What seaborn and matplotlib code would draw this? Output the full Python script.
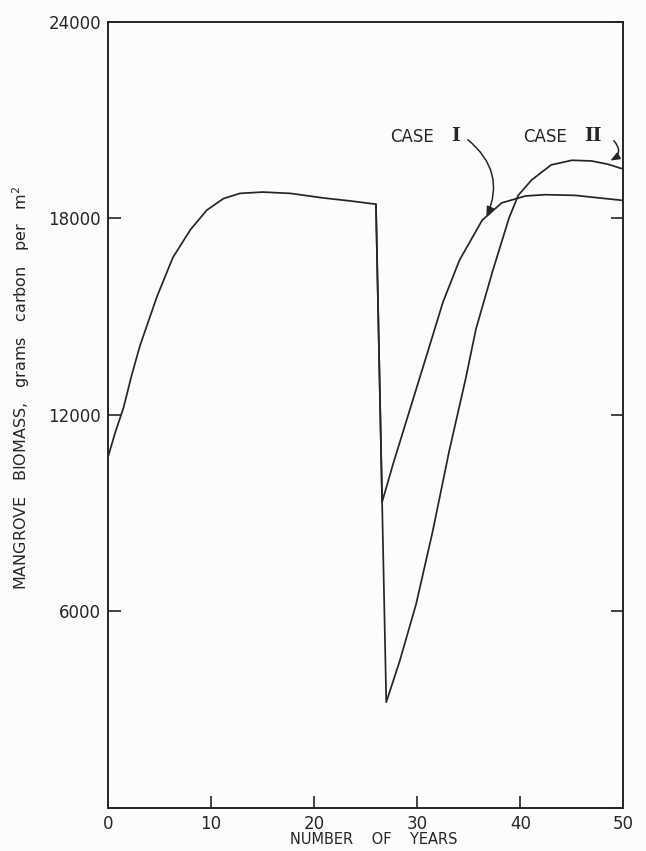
import matplotlib
matplotlib.use("Agg")
import matplotlib.pyplot as plt
import seaborn as sns
import pandas as pd

# ---- data ----
years_pre = [0, 0.7, 1.5, 2.3, 3.1, 4.75, 6.3, 8.0, 9.6, 11.2, 12.8, 15.0, 17.7, 20.9, 23.5, 26.0]
biomass_pre = [10700, 11450, 12200, 13200, 14100, 15600, 16800, 17650, 18250, 18600, 18760, 18800, 18760, 18620, 18530, 18430]

years_case1 = [26.6, 27.7, 29.3, 30.9, 32.5, 34.1, 36.3, 38.2, 40.5, 42.4, 45.3, 49.8]
biomass_case1 = [9340, 10540, 12170, 13800, 15440, 16720, 17940, 18470, 18680, 18720, 18700, 18550]

years_case2 = [27.0, 28.3, 29.9, 31.5, 33.1, 34.7, 35.7, 37.3, 38.9, 39.8, 41.1, 43.0, 45.0, 46.9, 48.5, 49.8]
biomass_case2 = [3230, 4480, 6230, 8440, 10890, 13100, 14620, 16370, 18000, 18700, 19170, 19630, 19770, 19750, 19650, 19520]

case_names = ["CASE", "CASE"]
case_numerals = ["I", "II"]
x_ticks = [0, 10, 20, 30, 40, 50]
y_ticks = [0, 6000, 12000, 18000, 24000]
y_tick_labels = ["", "6000", "12000", "18000", "24000"]

rows = []
# Case I branches off the shared pre-disturbance curve at its last point
c1_years = years_pre[-1:] + years_case1
c1_bio = biomass_pre[-1:] + biomass_case1
c2_years = years_pre + years_case2
c2_bio = biomass_pre + biomass_case2
for name, ys, bs in [("Case I", c1_years, c1_bio), ("Case II", c2_years, c2_bio)]:
    for y, b in zip(ys, bs):
        rows.append({"case": name, "year": y, "biomass": b})
df = pd.DataFrame(rows)

sns.set_theme(style="ticks")
plt.rcParams["font.family"] = ["DejaVu Sans"]
ink = "#262626"

fig = plt.figure(figsize=(6.46, 8.51), dpi=100, facecolor="#fcfcfa")
ax = fig.add_axes([0.167, 0.0505, 0.798, 0.924])
ax.set_facecolor("#fcfcfa")

sns.lineplot(data=df, x="year", y="biomass", units="case", estimator=None,
             sort=False, color=ink, lw=1.25, ax=ax)

ax.set_xlim(0, 50)
ax.set_ylim(0, 24000)
ax.set_xticks(x_ticks)
ax.set_xticklabels([str(t) for t in x_ticks])
ax.set_yticks(y_ticks)
ax.set_yticklabels(y_tick_labels)
ax.tick_params(axis="both", direction="in", length=9, width=1.2, color=ink,
               labelsize=12, labelcolor=ink)
ax.tick_params(axis="y", right=True, labelright=False, pad=5)
ax.tick_params(axis="x", top=False, pad=5)
for sp in ax.spines.values():
    sp.set_visible(True)
    sp.set_linewidth(1.4)
    sp.set_color(ink)

ax.set_xlabel("NUMBER    OF    YEARS", fontsize=10.5, color=ink)
ax.xaxis.set_label_coords(0.515, -0.031)
ax.set_ylabel("MANGROVE   BIOMASS,   grams   carbon   per   m$^2$", fontsize=11.5, color=ink)
ax.yaxis.set_label_coords(-0.147, 0.535)

# annotations
ax.text(27.4, 20480, case_names[0], fontsize=12, color=ink, va="center", ha="left")
ax.text(33.3, 20500, case_numerals[0], fontsize=13.5, color=ink, va="center", ha="left",
        family="DejaVu Serif", fontweight="bold")
ax.annotate("", xy=(36.6, 17960), xytext=(34.7, 20450),
            arrowprops=dict(arrowstyle="-|>,head_length=0.5,head_width=0.2",
                            connectionstyle="arc3,rad=-0.4", color=ink, lw=1.1))
ax.text(40.3, 20480, case_names[1], fontsize=12, color=ink, va="center", ha="left")
ax.text(46.2, 20500, case_numerals[1], fontsize=13.5, color=ink, va="center", ha="left",
        family="DejaVu Serif", fontweight="bold")
ax.annotate("", xy=(48.5, 19720), xytext=(48.9, 20430),
            arrowprops=dict(arrowstyle="-|>,head_length=0.45,head_width=0.18",
                            connectionstyle="arc3,rad=-0.7", color=ink, lw=1.1))

fig.savefig("out.png", dpi=100, facecolor=fig.get_facecolor())
